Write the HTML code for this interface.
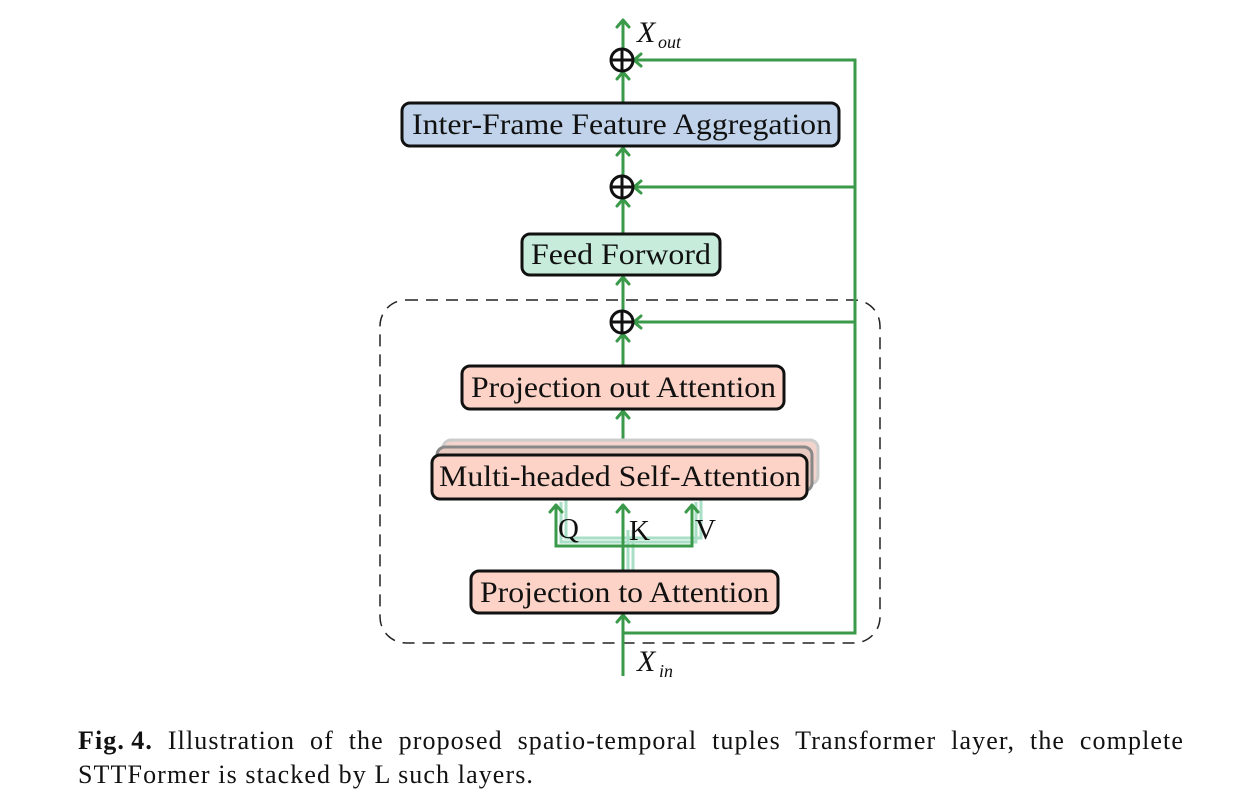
<!DOCTYPE html>
<html><head><meta charset="utf-8"><style>
body{margin:0;background:#fff;width:1256px;height:805px;overflow:hidden}
svg{position:absolute;left:0;top:0}
.cap{position:absolute;left:78px;width:1106px;font-family:"Liberation Serif",serif;font-size:26px;letter-spacing:1.1px;color:#111;line-height:34px;white-space:nowrap}
.l1{top:724px;text-align:justify;text-align-last:justify}
.l2{top:758px}
</style></head><body>
<svg width="1256" height="805" viewBox="0 0 1256 805">
<g font-family="Liberation Serif, serif" fill="#111">
<rect x="380" y="300" width="500" height="343" rx="26" fill="none" stroke="#222" stroke-width="1.5" stroke-dasharray="12,8"/>
<g fill="none" stroke="#a8dfc6" stroke-width="3">
<path d="M633 570 V530 M566 498 V538 H701 V498"/>
<path d="M628 570 V530 M561 502 V542 H696 V502"/>
</g>
<g fill="none" stroke="#3a9a4a" stroke-width="3">
<path d="M623 676 V615"/>
<path d="M623 633 H855 V60 H634"/>
<path d="M855 187 H634 M855 322 H634"/>
<path d="M623 571 V505 M556 505 V546 H692 V505"/>
<path d="M623 455 V411"/>
<path d="M623 366 V334"/>
<path d="M623 310 V277"/>
<path d="M623 234 V199"/>
<path d="M623 175 V148"/>
<path d="M623 103 V72"/>
<path d="M623 48 V20"/>
</g>
<g fill="none" stroke="#3a9a4a" stroke-width="3" stroke-linecap="round" stroke-linejoin="round">
<path d="M617 622 L623 615 L629 622"/>
<path d="M550 512 L556 505 L562 512 M617 512 L623 505 L629 512 M686 512 L692 505 L698 512"/>
<path d="M617 418 L623 411 L629 418"/>
<path d="M617 341 L623 334 L629 341"/>
<path d="M617 284 L623 277 L629 284"/>
<path d="M617 206 L623 199 L629 206"/>
<path d="M617 155 L623 148 L629 155"/>
<path d="M617 79 L623 72 L629 79"/>
<path d="M617 27 L623 20 L629 27"/>
<path d="M641 54 L634 60 L641 66 M641 181 L634 187 L641 193 M641 316 L634 322 L641 328"/>
</g>
<g fill="none" stroke="#111" stroke-width="3">
<circle cx="622" cy="60" r="11"/><path d="M611 60 H633 M622 49 V71"/>
<circle cx="622" cy="187" r="11"/><path d="M611 187 H633 M622 176 V198"/>
<circle cx="622" cy="322" r="11"/><path d="M611 322 H633 M622 311 V333"/>
</g>
<rect x="402" y="103" width="437" height="43" rx="8" fill="#c0d3ea" stroke="#111" stroke-width="3"/>
<text x="412" y="134" font-size="30" textLength="420" lengthAdjust="spacingAndGlyphs">Inter-Frame Feature Aggregation</text>
<rect x="522" y="234" width="198" height="41" rx="8" fill="#c8ecdc" stroke="#111" stroke-width="3"/>
<text x="531" y="264" font-size="30" textLength="180" lengthAdjust="spacingAndGlyphs">Feed Forword</text>
<rect x="462" y="366" width="322" height="43" rx="8" fill="#fcd3c6" stroke="#111" stroke-width="3"/>
<text x="471" y="397" font-size="30" textLength="305" lengthAdjust="spacingAndGlyphs">Projection out Attention</text>
<rect x="443" y="440" width="375" height="44" rx="8" fill="#f2d4cc" stroke="#ccc" stroke-width="3"/>
<rect x="437" y="447" width="375" height="44" rx="8" fill="#e8c9c0" stroke="#888" stroke-width="3"/>
<rect x="432" y="455" width="375" height="44" rx="8" fill="#fcd3c6" stroke="#111" stroke-width="3"/>
<text x="439" y="486" font-size="30" textLength="362" lengthAdjust="spacingAndGlyphs">Multi-headed Self-Attention</text>
<rect x="471" y="571" width="307" height="42" rx="8" fill="#fcd3c6" stroke="#111" stroke-width="3"/>
<text x="480" y="602" font-size="30" textLength="289" lengthAdjust="spacingAndGlyphs">Projection to Attention</text>
<text x="558" y="538" font-size="29">Q</text>
<text x="629" y="540" font-size="29">K</text>
<text x="695" y="539" font-size="29">V</text>
<text x="637" y="42" font-size="30" font-style="italic">X</text><text x="658" y="48" font-size="18" font-style="italic">out</text>
<text x="637" y="671" font-size="30" font-style="italic">X</text><text x="659" y="677" font-size="18" font-style="italic">in</text>
</g>
</svg>
<div class="cap l1"><b>Fig.&#8201;4.</b> Illustration of the proposed spatio-temporal tuples Transformer layer, the complete</div>
<div class="cap l2">STTFormer is stacked by L such layers.</div>
</body></html>
